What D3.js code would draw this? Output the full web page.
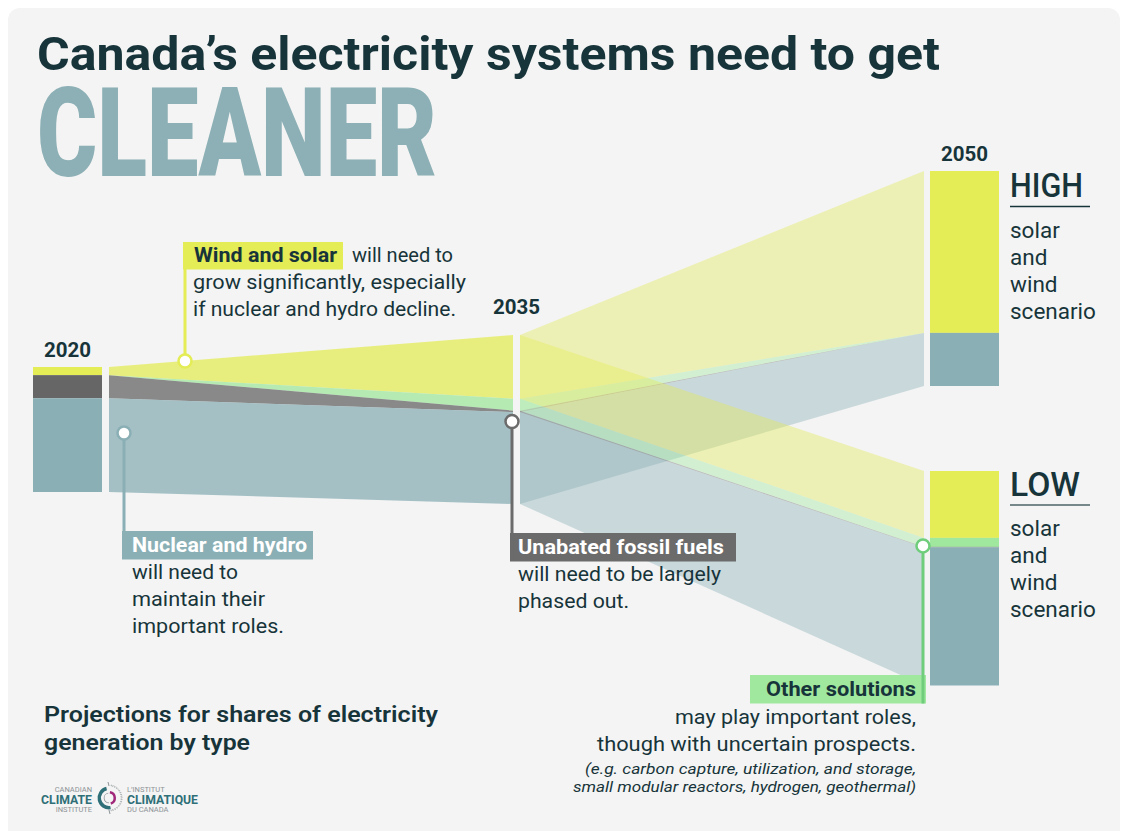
<!DOCTYPE html>
<html>
<head>
<meta charset="utf-8">
<script src="https://cdn.jsdelivr.net/npm/d3@7"></script>
<style>
  html, body { margin: 0; padding: 0; background: #ffffff; }
  svg { display: block; font-family: Roboto, "Noto Sans", sans-serif; }
</style>
</head>
<body>
<svg id="chart" width="1123" height="831"></svg>
<script>
// ---- data: generation by type, indexed so that 2020 total = 100 ----
const categories   = ["Wind and solar", "Other solutions", "Unabated fossil fuels", "Nuclear and hydro"];
const gen2020      = [6.5, 0, 18.5, 75];
const gen2035      = [51, 9.5, 1.2, 73.5];
const gen2050High  = [129.5, 0, 0, 42.5];
const gen2050Low   = [53.5, 7.2, 0.4, 110.5];
const yearLabels   = ["2020", "2035", "2050"];
const scenarioNames   = ["HIGH", "LOW"];
const scenarioCaption = ["solar", "and", "wind", "scenario"];

// ---- style ----
const colors = ["#e4ec56", "#a0e89e", "#666666", "#8aafb5"];
const ink = "#17343a";
const markerStroke = ["#e4ec56", "#6fcd7c", "#6b6b6b", "#8aafb5"];

const svg = d3.select("#chart");

// card
svg.append("rect").attr("x", 8).attr("y", 8).attr("width", 1112).attr("height", 860)
  .attr("rx", 12).attr("fill", "#f4f4f4");

function fit(sel, w) {
  if (w) sel.attr("textLength", w).attr("lengthAdjust", "spacingAndGlyphs");
  return sel;
}

// ---- title ----
fit(svg.append("text").attr("x", 37).attr("y", 70)
  .attr("font-size", 47).attr("font-weight", 700).attr("fill", ink)
  .text("Canada\u2019s electricity systems need to get"), 903);
fit(svg.append("text").attr("x", 37).attr("y", 176)
  .attr("font-size", 124).attr("font-weight", 900).attr("fill", "#8cb0b5")
  .text("CLEANER"), 400);

// ---- scales & layout ----
const h = d3.scaleLinear().domain([0, 100]).range([0, 125]);
const barW = 69;
const layout = {
  y2020: { top: 367, barX: 33, outX: 109 },
  y2035: { top: 335, inX: 513, outX: 520 },
  high:  { top: 171, inX: 924, barX: 930 },
  low:   { top: 471, inX: 924, barX: 930 }
};

function stack(vals, top) {
  let y = top;
  return vals.map(v => { const y0 = y; y += h(v); return { y0, y1: y }; });
}
const s2020 = stack(gen2020, layout.y2020.top);
const s2035 = stack(gen2035, layout.y2035.top);
const sHigh = stack(gen2050High, layout.high.top);
const sLow  = stack(gen2050Low, layout.low.top);

const area = d3.area().x(d => d.x).y0(d => d.y0).y1(d => d.y1);

function drawFlows(from, x0, to, x1, opacity) {
  const g = svg.append("g");
  categories.forEach((c, i) => {
    g.append("path")
      .attr("d", area([{ x: x0, y0: from[i].y0, y1: from[i].y1 }, { x: x1, y0: to[i].y0, y1: to[i].y1 }]))
      .attr("fill", colors[i]).attr("fill-opacity", opacity);
  });
}

// flows 2035 -> 2050, both scenarios, translucent
drawFlows(s2035, layout.y2035.outX, sHigh, layout.high.inX, 0.4);
drawFlows(s2035, layout.y2035.outX, sLow, layout.low.inX, 0.4);
// flows 2020 -> 2035
drawFlows(s2020, layout.y2020.outX, s2035, layout.y2035.inX, 0.75);

// bars
function drawBar(st, x) {
  const g = svg.append("g");
  categories.forEach((c, i) => {
    if (st[i].y1 - st[i].y0 <= 0) return;
    g.append("rect").attr("x", x).attr("y", st[i].y0).attr("width", barW)
      .attr("height", st[i].y1 - st[i].y0).attr("fill", colors[i]);
  });
}
drawBar(s2020, layout.y2020.barX);
drawBar(sHigh, layout.high.barX);
drawBar(sLow, layout.low.barX);

// year labels
const yearPos = [
  [layout.y2020.barX + barW / 2, 357],
  [(layout.y2035.inX + layout.y2035.outX) / 2, 314],
  [layout.high.barX + barW / 2, 161]
];
yearLabels.forEach((t, i) => {
  svg.append("text").attr("x", yearPos[i][0]).attr("y", yearPos[i][1])
    .attr("text-anchor", "middle").attr("font-size", 20.5).attr("font-weight", 700)
    .attr("fill", ink).text(t);
});

// scenario labels
const scenTop = [197, 495.5];
scenarioNames.forEach((name, i) => {
  const y = scenTop[i];
  fit(svg.append("text").attr("x", 1010).attr("y", y).attr("font-size", 33).attr("font-weight", 500)
    .attr("fill", ink).text(name), i === 0 ? 73 : 70);
  svg.append("line").attr("x1", 1010).attr("x2", 1090).attr("y1", y + 9.5).attr("y2", y + 9.5)
    .attr("stroke", ink).attr("stroke-width", 1.5).attr("stroke-opacity", i === 0 ? 1 : 0.75);
  scenarioCaption.forEach((t, j) => {
    svg.append("text").attr("x", 1010).attr("y", y + 40.5 + j * 27)
      .attr("font-size", 22.5).attr("font-weight", 400).attr("fill", ink).text(t);
  });
});

// ---- callouts ----
const lerp = (a, b, t) => a + (b - a) * t;
const windX = 185;
const windY = lerp(s2020[0].y0, s2035[0].y0,
  (windX - layout.y2020.outX) / (layout.y2035.inX - layout.y2020.outX));

const callouts = [
  { cat: 0, mx: windX, my: windY, lineTo: 242,
    box: [183, 242, 160, 27.5], head: [194, 261.5, ink, 143, "start"],
    lines: [[347, 261.5, " will need to", 106], [193, 288.5, "grow significantly, especially", 273],
            [193, 315.5, "if nuclear and hydro decline.", 263]] },
  { cat: 3, mx: 124, my: 433, lineTo: 559,
    box: [122, 531, 191, 28.5], head: [132, 551.5, "#ffffff", 175, "start"],
    lines: [[132, 579, "will need to", 106], [132, 606, "maintain their", 133],
            [132, 633, "important roles.", 152]] },
  { cat: 2, mx: 512, my: 421.5, lineTo: 561,
    box: [510, 533, 226, 28.5], head: [518, 553.5, "#ffffff", 206, "start"],
    lines: [[518, 581, "will need to be largely", 203], [518, 608, "phased out.", 111]] },
  { cat: 1, mx: 923, my: sLow[1].y1 - 1, lineTo: 703.5,
    box: [750, 675, 176, 28.5], head: [916, 696, ink, 150, "end"],
    lines: [[916, 723.5, "may play important roles,", 241], [916, 750.5, "though with uncertain prospects.", 319]],
    notes: [[916, 773.5, "(e.g. carbon capture, utilization, and storage,", 331],
            [916, 792, "small modular reactors, hydrogen, geothermal)", 343]] }
];

callouts.forEach(c => {
  const g = svg.append("g");
  const col = c.cat === 1 ? "#a0e89e" : (c.cat === 2 ? "#6b6b6b" : colors[c.cat]);
  g.append("rect").attr("x", c.box[0]).attr("y", c.box[1]).attr("width", c.box[2]).attr("height", c.box[3])
    .attr("fill", col);
  g.append("line").attr("x1", c.mx).attr("x2", c.mx).attr("y1", c.my).attr("y2", c.lineTo)
    .attr("stroke", markerStroke[c.cat]).attr("stroke-width", 3);
  g.append("circle").attr("cx", c.mx).attr("cy", c.my).attr("r", 6.5)
    .attr("fill", "#ffffff").attr("stroke", markerStroke[c.cat]).attr("stroke-width", 2.5);
  fit(g.append("text").attr("x", c.head[0]).attr("y", c.head[1]).attr("text-anchor", c.head[4])
    .attr("font-size", 20.5).attr("font-weight", 700).attr("fill", c.head[2])
    .text(categories[c.cat]), c.head[3]);
  c.lines.forEach(l => {
    fit(g.append("text").attr("x", l[0]).attr("y", l[1]).attr("text-anchor", c.head[4])
      .attr("font-size", 20.5).attr("font-weight", 400).attr("fill", ink).style("white-space", "pre")
      .text(l[2]), l[3]);
  });
  (c.notes || []).forEach(l => {
    fit(g.append("text").attr("x", l[0]).attr("y", l[1]).attr("text-anchor", "end")
      .attr("font-size", 15.5).attr("font-style", "italic").attr("fill", ink)
      .text(l[2]), l[3]);
  });
});

// ---- subtitle ----
fit(svg.append("text").attr("x", 44).attr("y", 721.5).attr("font-size", 21.5).attr("font-weight", 600)
  .attr("fill", ink).text("Projections for shares of electricity"), 394);
fit(svg.append("text").attr("x", 44).attr("y", 750).attr("font-size", 21.5).attr("font-weight", 600)
  .attr("fill", ink).text("generation by type"), 206);

// ---- logo ----
const logo = svg.append("g");
const grey = "#8d9396", teal = "#2f6f78", magenta = "#a0277a";
logo.append("text").attr("x", 92).attr("y", 792).attr("text-anchor", "end").attr("font-size", 7.5)
  .attr("fill", grey).text("CANADIAN");
fit(logo.append("text").attr("x", 92).attr("y", 803.5).attr("text-anchor", "end").attr("font-size", 12)
  .attr("font-weight", 700).attr("fill", teal).text("CLIMATE"), 51);
logo.append("text").attr("x", 92).attr("y", 812).attr("text-anchor", "end").attr("font-size", 7.5)
  .attr("fill", grey).text("INSTITUTE");
logo.append("text").attr("x", 127).attr("y", 792).attr("font-size", 7.5).attr("fill", grey).text("L\u2019INSTITUT");
fit(logo.append("text").attr("x", 127).attr("y", 803.5).attr("font-size", 12)
  .attr("font-weight", 700).attr("fill", teal).text("CLIMATIQUE"), 71);
logo.append("text").attr("x", 127).attr("y", 812).attr("font-size", 7.5).attr("fill", grey).text("DU CANADA");
const icon = logo.append("g").attr("transform", "translate(109,798)");
const arc = d3.arc();
icon.append("path").attr("d", arc({ innerRadius: 8, outerRadius: 11.5, startAngle: Math.PI * 0.95, endAngle: Math.PI * 1.92 }))
  .attr("fill", teal);
icon.append("path").attr("d", arc({ innerRadius: 4.5, outerRadius: 7, startAngle: Math.PI * 0.05, endAngle: Math.PI * 0.9 }))
  .attr("fill", magenta);
icon.append("path").attr("d", arc({ innerRadius: 4.5, outerRadius: 5.3, startAngle: Math.PI * 1.0, endAngle: Math.PI * 1.95 }))
  .attr("fill", grey);
icon.append("path").attr("d", d3.arc()({ innerRadius: 12.2, outerRadius: 13, startAngle: Math.PI * 0.05, endAngle: Math.PI * 0.95 }))
  .attr("fill", "none").attr("stroke", grey).attr("stroke-width", 0.8).attr("stroke-dasharray", "1.2,1.2");
icon.append("line").attr("x1", -1).attr("x2", 0).attr("y1", -16).attr("y2", -12).attr("stroke", grey).attr("stroke-width", 1);
icon.append("line").attr("x1", 0).attr("x2", 1).attr("y1", 12).attr("y2", 16).attr("stroke", grey).attr("stroke-width", 1);
</script>
</body>
</html>
